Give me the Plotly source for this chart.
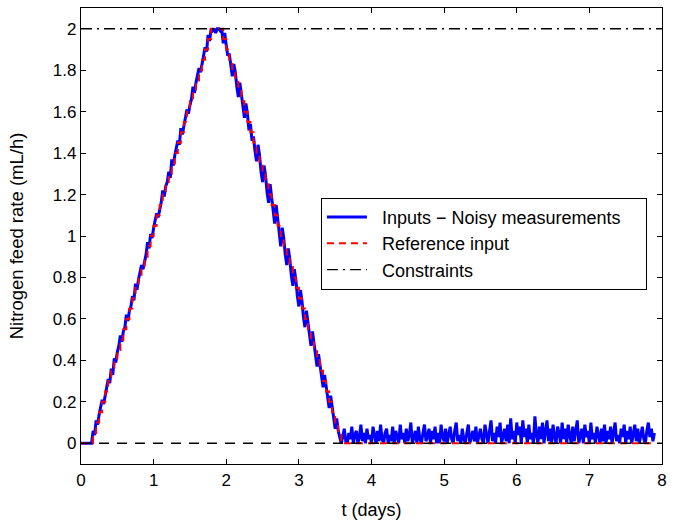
import plotly.graph_objects as go

# Time sampling: reference input changes hourly, measurements every half hour
HOURS_PER_DAY = 24
ref_step_hours = 1.0
meas_step_hours = 0.5

# Reference input (mL/h), one value per hour
reference_input = (
    [0.0, 0.0, 0.0, 0.0]
    + [0.05, 0.10, 0.15, 0.20, 0.25, 0.30, 0.35, 0.40, 0.45, 0.50,
       0.55, 0.60, 0.65, 0.70, 0.75, 0.80, 0.85, 0.90, 0.95, 1.00,
       1.05, 1.10, 1.15, 1.20, 1.25, 1.30, 1.35, 1.40, 1.45, 1.50,
       1.55, 1.60, 1.65, 1.70, 1.75, 1.80, 1.85, 1.90, 1.95]
    + [2.0, 2.0, 2.0, 2.0]
    + [1.95, 1.90, 1.85, 1.80, 1.75, 1.70, 1.65, 1.60, 1.55, 1.50,
       1.45, 1.40, 1.35, 1.30, 1.25, 1.20, 1.15, 1.10, 1.05, 1.00,
       0.95, 0.90, 0.85, 0.80, 0.75, 0.70, 0.65, 0.60, 0.55, 0.50,
       0.45, 0.40, 0.35, 0.30, 0.25, 0.20, 0.15, 0.10, 0.05]
    + [0.0] * 104
)

# Noisy measured inputs (mL/h), one value per half hour
measured_input = (
    [0.0] * 8
    + [0.06, 0.04, 0.11, 0.09, 0.14, 0.17, 0.21, 0.19, 0.24, 0.27,
       0.31, 0.29, 0.36, 0.33, 0.41, 0.39, 0.44, 0.47, 0.52, 0.49,
       0.54, 0.56, 0.62, 0.59, 0.64, 0.66, 0.71, 0.69, 0.77, 0.74,
       0.79, 0.82, 0.86, 0.84, 0.88, 0.91, 0.97, 0.94, 1.01, 0.99,
       1.04, 1.07, 1.11, 1.09, 1.13, 1.16, 1.22, 1.19, 1.24, 1.26,
       1.31, 1.28, 1.37, 1.34, 1.39, 1.42, 1.46, 1.44, 1.52, 1.49,
       1.54, 1.57, 1.61, 1.59, 1.63, 1.66, 1.72, 1.69, 1.74, 1.77,
       1.81, 1.79, 1.84, 1.87, 1.91, 1.89, 1.97, 1.94]
    + [2.0, 1.99, 2.0, 1.98, 2.0, 2.0, 1.99, 2.0]
    + [1.93, 1.98, 1.92, 1.87, 1.88, 1.83, 1.77, 1.83, 1.79, 1.72,
       1.67, 1.74, 1.69, 1.62, 1.57, 1.64, 1.59, 1.51, 1.54, 1.46,
       1.48, 1.41, 1.36, 1.44, 1.39, 1.31, 1.26, 1.34, 1.29, 1.21,
       1.16, 1.25, 1.19, 1.11, 1.06, 1.15, 1.09, 1.01, 0.95, 1.04,
       0.99, 0.91, 0.86, 0.94, 0.89, 0.81, 0.76, 0.84, 0.79, 0.71,
       0.66, 0.74, 0.69, 0.61, 0.56, 0.64, 0.58, 0.51, 0.47, 0.54,
       0.48, 0.42, 0.37, 0.43, 0.38, 0.32, 0.27, 0.33, 0.28, 0.22,
       0.17, 0.23, 0.18, 0.12, 0.07, 0.12, 0.06, 0.03]
    + [0.00, 0.03, 0.07, 0.01, 0.00, 0.05, 0.02, 0.08, 0.00, 0.04, 0.06, 0.00, 0.03, 0.09, 0.01, 0.05,
       0.00, 0.07, 0.02, 0.04, 0.00, 0.08, 0.03, 0.00, 0.06, 0.01, 0.09, 0.02, 0.00, 0.05, 0.07, 0.00,
       0.04, 0.01, 0.08, 0.00, 0.06, 0.03, 0.00, 0.09, 0.02, 0.05, 0.00, 0.07, 0.01, 0.04, 0.10, 0.00,
       0.03, 0.06, 0.00, 0.08, 0.02, 0.00, 0.05, 0.09, 0.01, 0.03, 0.07, 0.00, 0.06, 0.02, 0.08, 0.00,
       0.05, 0.00, 0.09, 0.03, 0.01, 0.07, 0.00, 0.04, 0.08, 0.02, 0.00, 0.06, 0.10, 0.01, 0.04, 0.00,
       0.07, 0.02, 0.00, 0.05, 0.09, 0.00, 0.03, 0.06, 0.01, 0.08, 0.00, 0.04, 0.07, 0.02, 0.00, 0.09,
       0.03, 0.00, 0.06, 0.11, 0.01, 0.05, 0.00, 0.08, 0.03, 0.10, 0.00, 0.04, 0.07, 0.01, 0.09, 0.00,
       0.12, 0.02, 0.06, 0.00, 0.10, 0.04, 0.08, 0.00, 0.11, 0.03, 0.07, 0.00, 0.09, 0.02, 0.05, 0.00,
       0.13, 0.04, 0.00, 0.08, 0.02, 0.10, 0.00, 0.06, 0.11, 0.01, 0.07, 0.00, 0.09, 0.03, 0.00, 0.08,
       0.05, 0.00, 0.10, 0.02, 0.07, 0.00, 0.09, 0.04, 0.00, 0.08, 0.01, 0.06, 0.11, 0.00, 0.04, 0.07,
       0.00, 0.09, 0.03, 0.06, 0.00, 0.10, 0.02, 0.05, 0.00, 0.08, 0.04, 0.00, 0.07, 0.01, 0.09, 0.00,
       0.06, 0.02, 0.08, 0.00, 0.05, 0.10, 0.01, 0.04, 0.00, 0.07, 0.03, 0.09, 0.00, 0.06, 0.02, 0.08,
       0.00, 0.05, 0.09, 0.01, 0.07, 0.00, 0.04, 0.08, 0.02, 0.00, 0.06, 0.10, 0.03, 0.07, 0.01, 0.05]
)

# Constraints (mL/h) and time span (days)
upper_constraint = 2.0
lower_constraint = 0.0
t_end_days = 7.9

x_ticks = [0, 1, 2, 3, 4, 5, 6, 7, 8]
y_ticks = [0, 0.2, 0.4, 0.6, 0.8, 1.0, 1.2, 1.4, 1.6, 1.8, 2.0]
y_tick_labels = ["0", "0.2", "0.4", "0.6", "0.8", "1", "1.2", "1.4", "1.6", "1.8", "2"]

series_names = ["Inputs \u2212 Noisy measurements", "Reference input", "Constraints"]

t_meas = [i * meas_step_hours / HOURS_PER_DAY for i in range(len(measured_input))]
t_ref = [i * ref_step_hours / HOURS_PER_DAY for i in range(len(reference_input))]
t_ref_ext = t_ref + [t_end_days]
ref_ext = reference_input + [reference_input[-1]]

FONT = "Liberation Sans, Arial, sans-serif"
PAD = "\u00a0\u00a0"

fig = go.Figure()
fig.add_trace(go.Scatter(
    x=t_meas, y=measured_input, mode="lines",
    line=dict(color="#0000ff", width=3),
    name=PAD + series_names[0] + PAD + PAD))
fig.add_trace(go.Scatter(
    x=t_ref_ext, y=ref_ext, mode="lines", line_shape="hv",
    line=dict(color="#ff0000", width=2, dash="7px,5px"),
    name=PAD + series_names[1]))
fig.add_trace(go.Scatter(
    x=[0, 8], y=[upper_constraint, upper_constraint], mode="lines",
    line=dict(color="black", width=1.3, dash="11px,5px,2px,5px"),
    name=PAD + series_names[2]))
fig.add_trace(go.Scatter(
    x=[0, 8], y=[lower_constraint, lower_constraint], mode="lines",
    line=dict(color="black", width=1.3, dash="10px,8px"),
    name=series_names[2], showlegend=False))

axis_common = dict(
    showgrid=False, zeroline=False, showline=True, linecolor="black", linewidth=1.2,
    mirror="ticks", ticks="inside", ticklen=5, tickwidth=1, tickcolor="black",
    tickfont=dict(family=FONT, size=17, color="black"),
)

fig.update_layout(
    width=678, height=523,
    margin=dict(l=81, r=16, t=7, b=57),
    paper_bgcolor="white", plot_bgcolor="white",
    font=dict(family=FONT, size=17, color="black"),
    xaxis=dict(range=[0, 8], tickvals=x_ticks,
               title=dict(text="t (days)", font=dict(family=FONT, size=18), standoff=14),
               **axis_common),
    yaxis=dict(range=[-0.1, 2.1], tickvals=y_ticks, ticktext=y_tick_labels,
               title=dict(text="Nitrogen feed rate (mL/h)", font=dict(family=FONT, size=18.5), standoff=24),
               **axis_common),
    legend=dict(x=0.413, y=0.584, xanchor="left", yanchor="top",
                bgcolor="white", bordercolor="black", borderwidth=1,
                font=dict(family=FONT, size=18), tracegroupgap=0,
                itemwidth=40),
    showlegend=True,
)

fig.write_html("out.html")
